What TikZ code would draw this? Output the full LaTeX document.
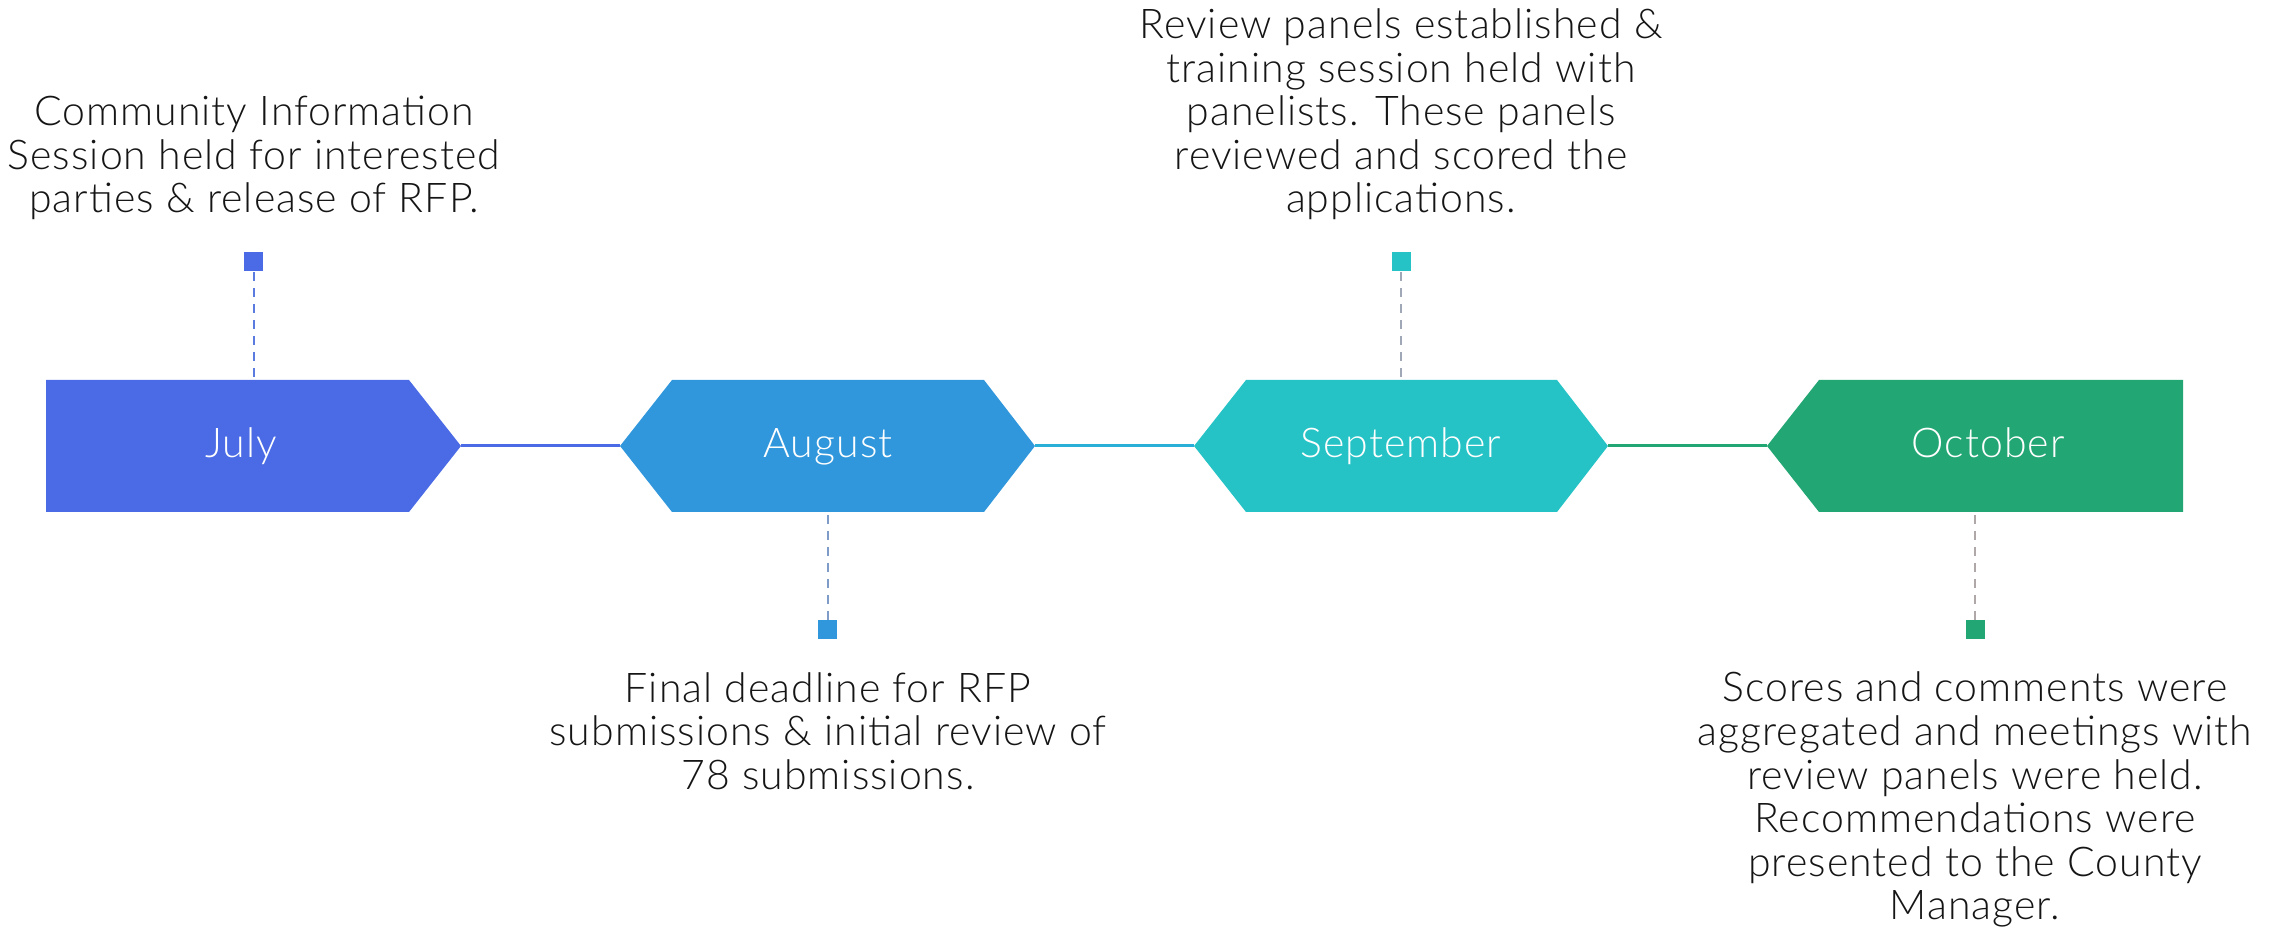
\documentclass[tikz,border=0pt]{standalone}
\usepackage{fontspec}
\IfFontExistsTF{Lato Light}{\setmainfont{Lato Light}[LetterSpace=2.5]}{\setmainfont{Lato}[LetterSpace=2.5]}
\definecolor{cjul}{HTML}{4A6BE5}
\definecolor{caug}{HTML}{3097DC}
\definecolor{csep}{HTML}{25C3C6}
\definecolor{coct}{HTML}{22A673}
\definecolor{cltwo}{HTML}{2AB0D8}
\definecolor{djul}{HTML}{5B7BE0}
\definecolor{daug}{HTML}{7F9CC8}
\definecolor{dsep}{HTML}{A0A8B8}
\definecolor{doct}{HTML}{B0A8A8}
\definecolor{ctext}{HTML}{151515}
\tikzset{
  sq/.style={rectangle, inner sep=0pt, minimum size=9.5pt},
  dashline/.style={line width=1pt, dash pattern=on 4.5pt off 3.5pt},
  linkline/.style={line width=1.5pt},
  mlabel/.style={text=white, anchor=base, inner sep=0pt, font=\fontsize{20.5}{22}\selectfont},
  desc/.style={text=ctext, anchor=base, inner sep=0pt, align=center, font=\fontsize{20.5}{21.8}\selectfont},
}
\begin{document}
\begin{tikzpicture}[x=0.5pt,y=-0.5pt]
\useasboundingbox (0,0) rectangle (2282,929);
% month shapes
\fill[cjul] (46,380) -- (409,380) -- (461,446) -- (409,512) -- (46,512) -- cycle;
\fill[caug] (620,446) -- (672,380) -- (984,380) -- (1035,446) -- (984,512) -- (672,512) -- cycle;
\fill[csep] (1194,446) -- (1246,380) -- (1557,380) -- (1608,446) -- (1557,512) -- (1246,512) -- cycle;
\fill[coct] (1767,446) -- (1819,380) -- (2183,380) -- (2183,512) -- (1819,512) -- cycle;
% anchor coordinates
\coordinate (julR) at (461,446);
\coordinate (augL) at (620,446);
\coordinate (augR) at (1035,446);
\coordinate (sepL) at (1194,446);
\coordinate (sepR) at (1608,446);
\coordinate (octL) at (1767,446);
\coordinate (julT) at (253.5,380);
\coordinate (augB) at (827.5,512);
\coordinate (sepT) at (1401,380);
\coordinate (octB) at (1975,512);
% connectors between months
\draw[linkline, cjul] (julR) -- (augL);
\draw[linkline, cltwo] (augR) -- (sepL);
\draw[linkline, coct] (sepR) -- (octL);
% month labels
\node[mlabel] (julL) at (241,458) {July};
\node[mlabel] (augLbl) at (828,458) {August};
\node[mlabel] (sepLbl) at (1401,458) {September};
\node[mlabel] (octLbl) at (1988,458) {October};
% markers
\node[sq, fill=cjul] (julsq) at (253.5,262) {};
\node[sq, fill=caug] (augsq) at (827.5,629.5) {};
\node[sq, fill=csep] (sepsq) at (1401,262) {};
\node[sq, fill=coct] (octsq) at (1975,629.5) {};
\draw[dashline, djul] (julsq) -- (julT);
\draw[dashline, daug] (augsq) -- (augB);
\draw[dashline, dsep] (sepsq) -- (sepT);
\draw[dashline, doct] (octsq) -- (octB);
% descriptions (anchor = baseline of last line)
\node[desc] (julD) at (254,213) {Community Information\\Session held for interested\\parties \& release of RFP.};
\node[desc] (sepD) at (1401,213) {Review panels established \&\\training session held with\\panelists. These panels\\reviewed and scored the\\applications.};
\node[desc] (augD) at (828,789.5) {Final deadline for RFP\\submissions \& initial review of\\78 submissions.};
\node[desc] (octD) at (1975,920) {Scores and comments were\\aggregated and meetings with\\review panels were held.\\Recommendations were\\presented to the County\\Manager.};
\end{tikzpicture}
\end{document}
